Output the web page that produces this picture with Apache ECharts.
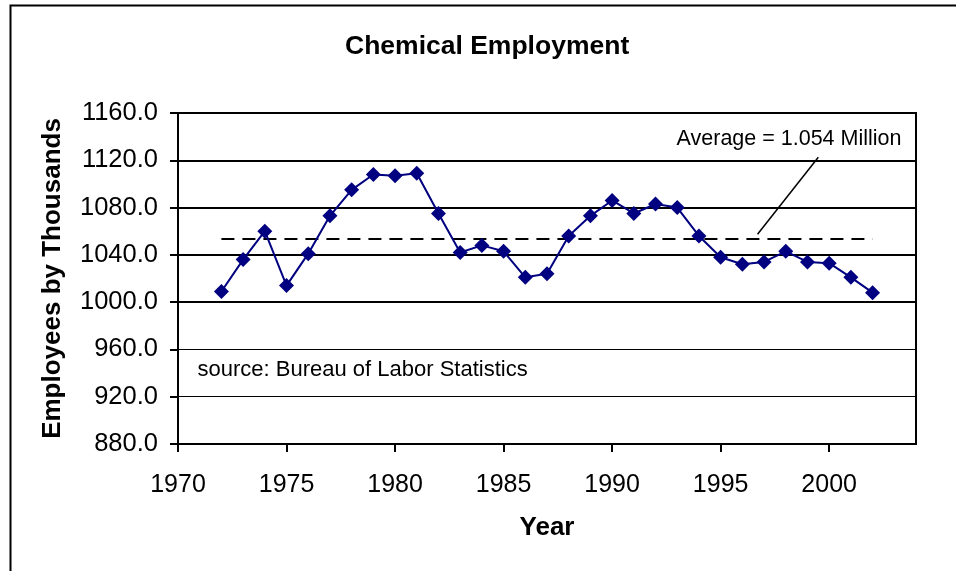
<!DOCTYPE html>
<html>
<head>
<meta charset="utf-8">
<script src="https://cdn.jsdelivr.net/npm/echarts@6/dist/echarts.min.js"></script>
<style>html,body{margin:0;padding:0;background:#fff}#c{width:956px;height:571px}</style>
</head>
<body>
<div id="c"></div>
<script>
const years = [1972,1973,1974,1975,1976,1977,1978,1979,1980,1981,1982,1983,1984,1985,1986,1987,1988,1989,1990,1991,1992,1993,1994,1995,1996,1997,1998,1999,2000,2001,2002];
const employment = [1009,1036,1060,1014,1041,1073,1095,1108,1107,1109,1075,1042,1048,1043,1021,1024,1056,1073,1086,1075,1083,1080,1056,1038,1032,1034,1043,1034,1033,1021,1008];
const averageValue = 1054;
const xTickLabels = [1970,1975,1980,1985,1990,1995,2000];
const yTickLabels = [880,920,960,1000,1040,1080,1120,1160];
const thickGridValues = [1000,1040,1080,1120];
const titleText = 'Chemical Employment';
const xName = 'Year';
const yName = 'Employees by Thousands';
const avgLabel = 'Average = 1.054 Million';
const sourceLabel = 'source: Bureau of Labor Statistics';
const avgLabelPos = [1998.15, 1138];
const leaderFrom = [1999.5, 1122.5];
const leaderTo = [1996.7, 1057.4];
const sourcePos = [1970.9, 943];

const FONT = 'Liberation Sans, Arial, sans-serif';
const chart = echarts.init(document.getElementById('c'));
const seriesData = years.map((y, i) => [y, employment[i]]);

chart.setOption({
  animation: false,
  backgroundColor: '#fff',
  title: {
    text: titleText, left: 345, top: 33, padding: 0,
    textStyle: { fontFamily: FONT, fontSize: 26.5, fontWeight: 'bold', color: '#000' }
  },
  graphic: [{
    type: 'rect', left: 8, top: 3, silent: true,
    shape: { width: 1000, height: 620 },
    style: { fill: 'none', stroke: '#000', lineWidth: 2 }
  }],
  grid: { left: 178, right: 40, top: 113, bottom: 127, show: true, borderColor: '#000', borderWidth: 2, backgroundColor: 'transparent' },
  xAxis: {
    type: 'value', min: 1970, max: 2004, interval: 5,
    name: xName, nameLocation: 'middle', nameGap: 71,
    nameTextStyle: { fontFamily: FONT, fontSize: 26, fontWeight: 'bold', color: '#000' },
    axisLine: { lineStyle: { color: '#000', width: 2 } },
    axisTick: { show: true, length: 8, lineStyle: { color: '#000', width: 2 }, customValues: xTickLabels },
    axisLabel: { fontFamily: FONT, fontSize: 25, color: '#000', margin: 29, customValues: xTickLabels, formatter: v => String(v) },
    splitLine: { show: false }
  },
  yAxis: {
    type: 'value', min: yTickLabels[0], max: yTickLabels[yTickLabels.length - 1], interval: 40,
    name: yName, nameLocation: 'middle', nameGap: 112,
    nameTextStyle: { fontFamily: FONT, fontSize: 26, fontWeight: 'bold', color: '#000' },
    axisLine: { show: true, lineStyle: { color: '#000', width: 2 } },
    axisTick: { show: true, length: 8, lineStyle: { color: '#000', width: 2 } },
    axisLabel: { fontFamily: FONT, fontSize: 25.5, color: '#000', margin: 20, formatter: v => v.toFixed(1) },
    splitLine: { show: true, lineStyle: { color: '#000', width: 1 } }
  },
  series: [{
    type: 'line',
    data: seriesData,
    symbol: 'diamond', symbolSize: 15,
    lineStyle: { color: '#000080', width: 2 },
    itemStyle: { color: '#000080' },
    z: 5,
    markLine: {
      silent: true, symbol: 'none', animation: false,
      label: { show: false },
      data: [
        [{ coord: [years[0], averageValue], lineStyle: { color: '#000', width: 2, type: [13, 8] } },
         { coord: [years[years.length - 1], averageValue] }],
        [{ coord: leaderFrom, lineStyle: { color: '#000', width: 1.5, type: 'solid' } }, { coord: leaderTo }]
      ].concat(thickGridValues.map(v => [
        { coord: [1970, v], lineStyle: { color: '#000', width: 2, type: 'solid' } },
        { coord: [2004, v] }
      ]))
    },
    markPoint: {
      silent: true, animation: false,
      data: [
        { coord: avgLabelPos, symbol: 'circle', symbolSize: 0,
          label: { show: true, position: 'inside', formatter: avgLabel, fontFamily: FONT, fontSize: 21.5, color: '#000' } },
        { coord: sourcePos, symbol: 'circle', symbolSize: 0,
          label: { show: true, position: 'right', distance: 0, formatter: sourceLabel, fontFamily: FONT, fontSize: 22, color: '#000' } }
      ]
    }
  }]
});
</script>
</body>
</html>
